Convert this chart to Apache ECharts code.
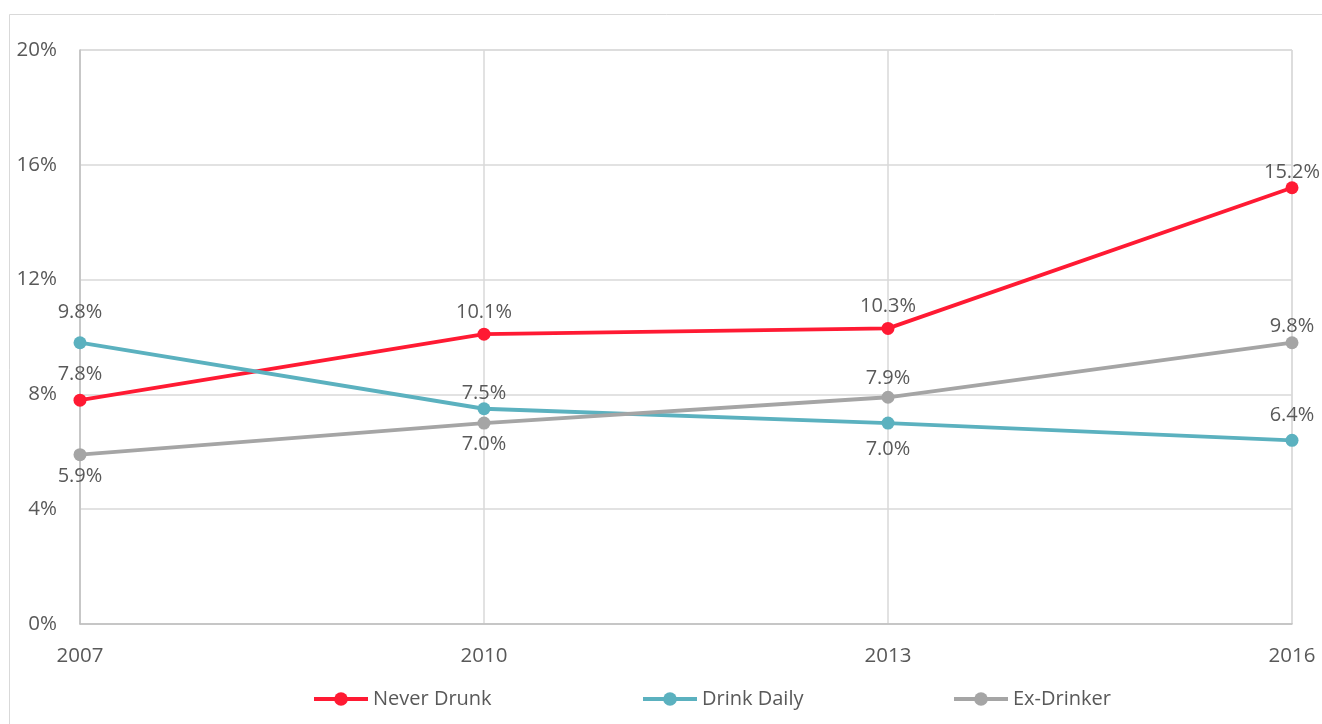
<!DOCTYPE html>
<html><head><meta charset="utf-8">
<script src="https://cdn.jsdelivr.net/npm/echarts@6/dist/echarts.min.js"></script>
<style>html,body{margin:0;padding:0;background:#fff}#c{width:1322px;height:724px}</style>
</head><body><div id="c"></div>
<script>
const years = ['2007', '2010', '2013', '2016'];
const neverDrunk = [7.8, 10.1, 10.3, 15.2];
const drinkDaily = [9.8, 7.5, 7.0, 6.4];
const exDrinker = [5.9, 7.0, 7.9, 9.8];
const seriesNames = ['Never Drunk', 'Drink Daily', 'Ex-Drinker'];

// label placement (style only)
const labelPos = [
  ['top', 'top', 'top', 'top'],
  ['top', 'top', 'bottom', 'top'],
  ['bottom', 'bottom', 'top', 'top']
];
const labelDist = [
  [9, 5, 6, -1],
  [14, -1, 10, 9],
  [5, 5, 2, 0]
];

const font = '"Open Sans", "Liberation Sans", sans-serif';
const txt = '#595959';

function series(idx, color, vals) {
  return {
    name: seriesNames[idx], type: 'line',
    data: vals.map((v, i) => ({ value: v, label: { position: labelPos[idx][i], distance: labelDist[idx][i] } })),
    symbol: 'circle', symbolSize: 13,
    lineStyle: { color, width: 3.8 },
    itemStyle: { color },
    label: { show: true, color: txt, fontSize: 20, fontFamily: font,
      formatter: p => p.value.toFixed(1) + '%' },
    animation: false
  };
}
const legendLefts = [312, 641, 952];
const chart = echarts.init(document.getElementById('c'));
chart.setOption({
  backgroundColor: '#fff',
  animation: false,
  graphic: [{ type: 'rect', shape: { x: 9.5, y: 14.5, width: 1400, height: 800 },
    style: { fill: 'none', stroke: '#d9d9d9', lineWidth: 1 }, silent: true, z: -1 }],
  grid: { left: 80, right: 30, top: 50, bottom: 100, containLabel: false,
    show: true, borderColor: '#d9d9d9', borderWidth: 1 },
  legend: seriesNames.map((n, i) => ({
    data: [n], left: legendLefts[i], top: 689, itemWidth: 54, itemHeight: 17, padding: 0,
    lineStyle: { width: 4 },
    textStyle: { color: txt, fontSize: 20, fontFamily: font }
  })),
  xAxis: { type: 'category', data: years, boundaryGap: false,
    axisLine: { lineStyle: { color: '#bfbfbf', width: 1.5 } },
    axisTick: { show: false },
    splitLine: { show: true, lineStyle: { color: '#d9d9d9', width: 1.5 } },
    axisLabel: { color: txt, fontSize: 20.5, fontFamily: font, margin: 22 } },
  yAxis: { type: 'value', min: 0, max: 20, interval: 4,
    axisLine: { show: true, lineStyle: { color: '#bfbfbf', width: 1.5 } },
    axisTick: { show: false },
    splitLine: { lineStyle: { color: '#d9d9d9', width: 1.5 } },
    axisLabel: { color: txt, fontSize: 20.5, fontFamily: font, margin: 23, formatter: v => v + '%' } },
  series: [
    series(0, '#ff1a33', neverDrunk),
    series(1, '#5bb1bf', drinkDaily),
    series(2, '#a5a5a5', exDrinker)
  ]
});
</script></body></html>
